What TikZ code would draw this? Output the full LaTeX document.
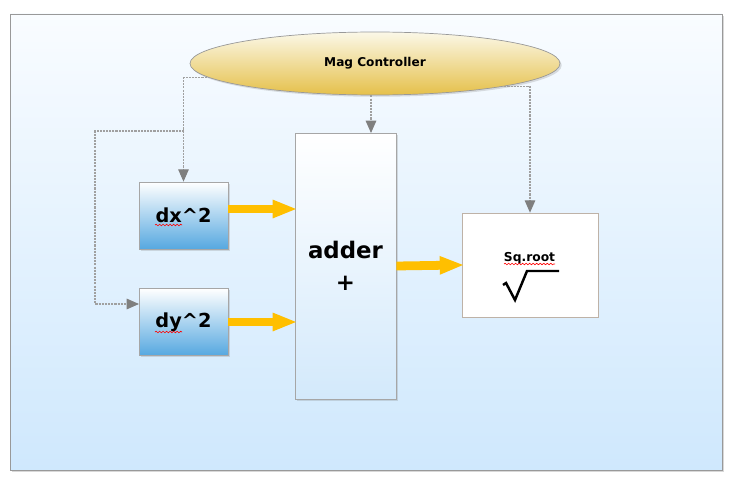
\documentclass[tikz,border=0pt]{standalone}
\usepackage{fontspec}
\setsansfont{DejaVu Sans}
\usepackage{tikz}
\usetikzlibrary{arrows.meta,shapes.geometric,shadows,decorations.pathmorphing}

\definecolor{panelTop}{HTML}{F9FCFF}
\definecolor{panelBot}{HTML}{CFE8FD}
\definecolor{sqBlue}{HTML}{56A8E0}
\definecolor{addBlue}{HTML}{D3E9FB}
\definecolor{magTop}{HTML}{FBF8E8}
\definecolor{magBot}{HTML}{E5C04A}
\definecolor{flowYellow}{HTML}{FFBF00}
\definecolor{ctrlGray}{HTML}{A0A0A0}
\definecolor{tipGray}{HTML}{7F7F7F}

\begin{document}
\begin{tikzpicture}[x=0.02cm,y=-0.02cm,
	sqbox/.style={draw=gray!70, top color=white, bottom color=sqBlue, minimum width=1.78cm, minimum height=1.34cm, inner sep=0pt, font=\sffamily\bfseries\fontsize{11}{13}\selectfont, drop shadow={shadow xshift=1pt, shadow yshift=-1pt, opacity=.25}},
	ctrl/.style={draw=ctrlGray, line width=0.6pt, dash pattern=on 1.2pt off 0.6pt, -{Triangle[length=7pt,width=6pt,color=tipGray]}},
	flow/.style={draw=flowYellow, line width=5pt, -{Triangle[length=14pt,width=9.5pt]}, shorten >=-1.5pt},
	spell/.style={red, line width=0.35pt, decorate, decoration={snake, amplitude=0.45pt, segment length=2pt}}]

	\useasboundingbox (0,0) rectangle (750,500);

	% panel
	\fill[white] (0,0) rectangle (750,500);
	\draw[draw=gray!80, top color=panelTop, bottom color=panelBot, drop shadow={shadow xshift=1pt, shadow yshift=-1pt, opacity=.3}] (10,14) rectangle (722,470);

	% blocks
	\node (mag) at (375,63.5) [ellipse, draw=gray!80, top color=magTop, bottom color=magBot, minimum width=7.4cm, minimum height=1.26cm, inner sep=0pt, font=\sffamily\bfseries\fontsize{6.9}{8}\selectfont, drop shadow={shadow xshift=1pt, shadow yshift=-1pt, opacity=.25}] {Mag Controller};

	\node (dx) at (183.5,215.5) [sqbox] {dx\^{}2};
	\node (dy) at (183.5,322) [sqbox] {dy\^{}2};

	\node (adder) at (345.5,266) [draw=gray!70, top color=white, bottom color=addBlue, minimum width=2.02cm, minimum height=5.32cm, inner sep=0pt, align=center, font=\sffamily\bfseries\fontsize{13}{18}\selectfont, drop shadow={shadow xshift=1pt, shadow yshift=-1pt, opacity=.25}] {adder\\+};

	\node (sqrt) at (530,265) [draw=brown!30!gray!60, fill=white, minimum width=2.72cm, minimum height=2.08cm] {};
	\node (sqlbl) at (529.5,258) [font=\sffamily\bfseries\fontsize{7}{8}\selectfont] {Sq.root};
	\draw[line width=1.4pt, line join=miter] (503,285) -- (506,283) -- (515,300) -- (527,271) -- (559,271);

	% spelling marks
	\draw[spell] (155,225) -- (182,225);
	\draw[spell] (155,332) -- (182,332);
	\draw[spell] (504,264) -- (555,264);

	% control lines
	\coordinate (br) at (184,131);
	\coordinate (addin) at (371,133);
	\coordinate (dyin) at (139,304);
	\draw[ctrl] (mag.185) -| (dx.north);
	\draw[ctrl] (br) -- ++(-89,0) |- (dyin);
	\draw[ctrl] (mag.south -| addin) -- (addin);
	\draw[ctrl] (mag.-10) -| (sqrt.north);

	% data flow
	\draw[flow] (dx.east |- 0,209) -- (adder.west |- 0,209);
	\draw[flow] (dy.east) -- (adder.west |- dy.east);
	\draw[flow] (adder.east) -- (sqrt.west);

\end{tikzpicture}
\end{document}
